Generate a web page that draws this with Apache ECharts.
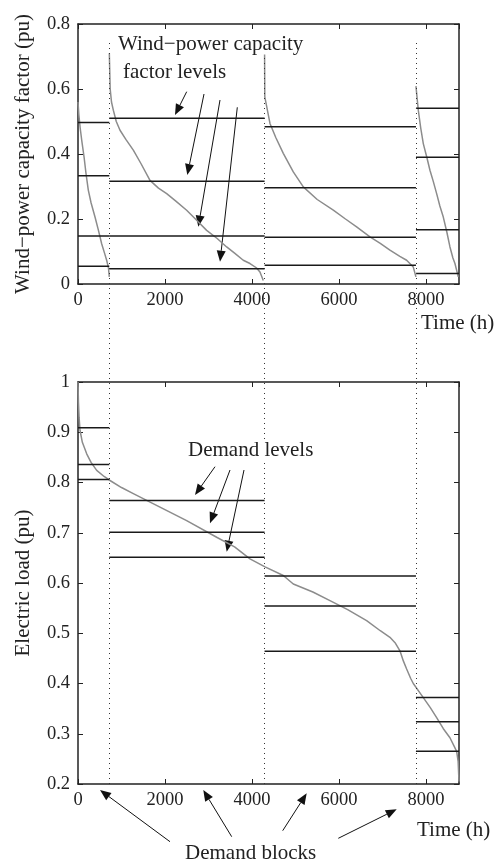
<!DOCTYPE html>
<html>
<head>
<meta charset="utf-8">
<script src="https://cdn.jsdelivr.net/npm/echarts@6/dist/echarts.min.js"></script>
<style>
  html, body { margin: 0; padding: 0; background: #fff; }
  #chart { width: 500px; height: 863px; }
</style>
</head>
<body>
<div id="chart"></div>
<script>
// block boundaries (h)
var blockEdges = [0, 720, 4290, 7770, 8760];

// wind capacity factor duration curves, one per demand block
var windBlock1 = [[0,0.56],[20,0.52],[50,0.48],[85,0.443],[140,0.39],[184,0.34],[237,0.289],[300,0.25],[391,0.206],[470,0.165],[544,0.124],[610,0.095],[659,0.073],[700,0.05],[720,0.022]];
var windBlock2 = [[720,0.71],[740,0.6],[770,0.56],[812,0.535],[880,0.5],[966,0.473],[1100,0.445],[1272,0.412],[1450,0.37],[1655,0.319],[1850,0.295],[2039,0.278],[2250,0.255],[2498,0.227],[2700,0.2],[2958,0.165],[3200,0.14],[3418,0.114],[3600,0.095],[3800,0.073],[3954,0.063],[4100,0.05],[4184,0.037],[4260,0.011]];
var windBlock3 = [[4290,0.71],[4295,0.576],[4414,0.494],[4550,0.45],[4720,0.402],[4950,0.345],[5180,0.299],[5500,0.26],[5870,0.227],[6150,0.2],[6406,0.176],[6713,0.145],[6950,0.125],[7172,0.104],[7400,0.085],[7556,0.073],[7709,0.052],[7770,0.022]];
var windBlock4 = [[7770,0.609],[7824,0.535],[7880,0.48],[7939,0.432],[8020,0.39],[8092,0.35],[8170,0.315],[8246,0.278],[8320,0.24],[8399,0.206],[8480,0.16],[8552,0.114],[8620,0.08],[8667,0.063],[8743,0.022]];

// wind capacity factor levels per block
var windLevels = [
  [0.497, 0.333, 0.148, 0.055],
  [0.51, 0.316, 0.148, 0.047],
  [0.484, 0.296, 0.144, 0.058],
  [0.541, 0.39, 0.167, 0.032]
];

// load duration curve
var loadCurve = [[0,1.0],[10,0.96],[25,0.93],[46,0.904],[100,0.88],[200,0.857],[300,0.84],[430,0.824],[600,0.812],[736,0.804],[1000,0.79],[1272,0.778],[1885,0.751],[2498,0.724],[3188,0.691],[3600,0.672],[3954,0.648],[4300,0.632],[4720,0.615],[4950,0.598],[5400,0.582],[5793,0.565],[6200,0.547],[6636,0.525],[6950,0.505],[7172,0.492],[7300,0.48],[7402,0.465],[7480,0.445],[7556,0.429],[7650,0.41],[7709,0.4],[7939,0.372],[8100,0.352],[8246,0.332],[8400,0.31],[8552,0.292],[8650,0.275],[8706,0.265],[8740,0.245],[8760,0.205]];

// demand levels per block
var loadLevels = [
  [0.909, 0.836, 0.806],
  [0.764, 0.701, 0.651],
  [0.614, 0.554, 0.464],
  [0.372, 0.324, 0.265]
];

var FONT = '"Liberation Serif", "Times New Roman", serif';
var AX = '#222';
var CURVE = '#8c8c8c';
var LEVEL = '#1a1a1a';

function xAx(grid, pos, labels) {
  return {
    type: 'value', gridIndex: grid, position: pos, min: 0, max: 8760, interval: 2000,
    axisLine: { show: true, onZero: false, lineStyle: { color: AX, width: 1.5 } },
    axisTick: { show: true, inside: true, length: 5, lineStyle: { color: AX } },
    axisLabel: { show: labels, showMaxLabel: false, margin: 7, color: '#222', fontFamily: FONT, fontSize: 18.5,
      formatter: function (v) { return String(v); } },
    splitLine: { show: false }
  };
}
function yAx(grid, pos, min, max, step, labels, name) {
  return {
    type: 'value', gridIndex: grid, position: pos, min: min, max: max, interval: step,
    name: name || '', nameLocation: 'middle', nameGap: 44,
    nameTextStyle: { color: '#222', fontFamily: FONT, fontSize: 21 },
    axisLine: { show: true, onZero: false, lineStyle: { color: AX, width: 1.5 } },
    axisTick: { show: true, inside: true, length: 5, lineStyle: { color: AX } },
    axisLabel: { show: labels, margin: 8, color: '#222', fontFamily: FONT, fontSize: 18.5 },
    splitLine: { show: false }
  };
}

var series = [];
[windBlock1, windBlock2, windBlock3, windBlock4].forEach(function (d) {
  series.push({ type: 'line', xAxisIndex: 0, yAxisIndex: 0, data: d, symbol: 'none',
    lineStyle: { color: CURVE, width: 1.5 }, z: 2 });
});
windLevels.forEach(function (lv, b) {
  lv.forEach(function (v) {
    series.push({ type: 'line', xAxisIndex: 0, yAxisIndex: 0, symbol: 'none',
      data: [[blockEdges[b], v], [blockEdges[b + 1], v]],
      lineStyle: { color: LEVEL, width: 1.5 }, z: 3 });
  });
});
series.push({ type: 'line', xAxisIndex: 2, yAxisIndex: 2, data: loadCurve, symbol: 'none',
  lineStyle: { color: CURVE, width: 1.5 }, z: 2 });
loadLevels.forEach(function (lv, b) {
  lv.forEach(function (v) {
    series.push({ type: 'line', xAxisIndex: 2, yAxisIndex: 2, symbol: 'none',
      data: [[blockEdges[b], v], [blockEdges[b + 1], v]],
      lineStyle: { color: LEVEL, width: 1.5 }, z: 3 });
  });
});
// dotted block separators across both panels
series.push({ type: 'line', xAxisIndex: 4, yAxisIndex: 4, data: [], symbol: 'none', z: 1,
  markLine: { silent: true, symbol: 'none', label: { show: false },
    lineStyle: { color: '#333', width: 1, type: [1, 4] },
    data: blockEdges.slice(1, 4).map(function (e) { return { xAxis: e }; }) } });

function arrow(x1, y1, x2, y2) {
  var dx = x2 - x1, dy = y2 - y1, L = Math.sqrt(dx * dx + dy * dy);
  var ux = dx / L, uy = dy / L, hl = 11, hw = 4.5;
  var bx = x2 - ux * hl, by = y2 - uy * hl;
  return { type: 'group', children: [
    { type: 'line', shape: { x1: x1, y1: y1, x2: bx, y2: by }, style: { stroke: '#111', lineWidth: 1 } },
    { type: 'polygon', shape: { points: [[x2, y2], [bx - uy * hw, by + ux * hw], [bx + uy * hw, by - ux * hw]] },
      style: { fill: '#111' } }
  ] };
}
function label(x, y, t, bg) {
  return { type: 'text', x: x, y: y, z: 10,
    style: { text: t, font: '21px ' + FONT, fill: '#222', textAlign: 'left', textVerticalAlign: 'middle',
      backgroundColor: bg ? '#fff' : null } };
}

var option = {
  animation: false,
  backgroundColor: '#fff',
  grid: [
    { left: 78, right: 41, top: 24, height: 260, show: false },
    { left: 78, right: 41, top: 382, height: 402, show: false },
    { left: 78, right: 41, top: 43, bottom: 79, show: false }
  ],
  xAxis: [
    xAx(0, 'bottom', true), xAx(0, 'top', false),
    xAx(1, 'bottom', true), xAx(1, 'top', false),
    { type: 'value', gridIndex: 2, min: 0, max: 8760, show: false }
  ],
  yAxis: [
    yAx(0, 'left', 0, 0.8, 0.2, true, 'Wind\u2212power capacity factor (pu)'), yAx(0, 'right', 0, 0.8, 0.2, false),
    yAx(1, 'left', 0.2, 1, 0.1, true, 'Electric load (pu)'), yAx(1, 'right', 0.2, 1, 0.1, false),
    { type: 'value', gridIndex: 2, min: 0, max: 1, show: false }
  ],
  series: series,
  graphic: [
    label(118, 44, 'Wind\u2212power capacity', true),
    label(123, 72, 'factor levels', true),
    arrow(186.7, 91.7, 175, 115),
    arrow(204, 94, 187.3, 175),
    arrow(220, 100, 198.3, 226.7),
    arrow(237.3, 107.3, 220, 261.7),
    label(421, 323, 'Time (h)', false),
    label(188, 450, 'Demand levels', true),
    arrow(215, 466.7, 195, 495),
    arrow(230, 470, 210, 523.3),
    arrow(244, 470, 226.7, 551.7),
    label(417, 830, 'Time (h)', false),
    label(185, 853, 'Demand blocks', false),
    arrow(170, 841.7, 100, 790),
    arrow(231.7, 836.7, 203.3, 790),
    arrow(282.7, 830.7, 306.7, 793.3),
    arrow(338.3, 838.3, 396.7, 809.3)
  ]
};

var myChart = echarts.init(document.getElementById('chart'));
myChart.setOption(option);
</script>
</body>
</html>
